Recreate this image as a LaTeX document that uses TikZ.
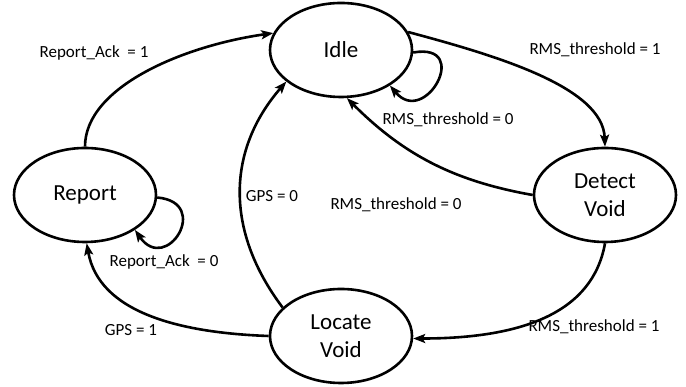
\documentclass[tikz,border=0pt]{standalone}
\usepackage{fontspec}
\setmainfont{Carlito}
\usetikzlibrary{arrows.meta,shapes.geometric}
\begin{document}
\begin{tikzpicture}[x=1pt,y=1pt,
  state/.style={ellipse,draw,line width=2.6pt,minimum width=142pt,minimum height=94pt,
    inner sep=0pt,align=center,font=\fontsize{23}{28}\selectfont},
  trans/.style={line width=2.6pt,-{Stealth[length=12pt,width=9pt,inset=2.5pt]}},
  lbl/.style={font=\fontsize{17}{20}\selectfont,inner sep=0pt}]
\useasboundingbox (0,0) rectangle (686,387);

% states
\node[state] (idle)   at (341,337) {Idle};
\node[state] (report) at (85,192)  {Report};
\node[state] (detect) at (605,192) {Detect\\Void};
\node[state] (locate) at (341,51)  {Locate\\Void};

% transitions
\draw[trans] (report.90) .. controls +(90:60) and +(188:90) .. (idle.166);
\draw[trans] (idle.15) .. controls +(-15:90) and +(92:60) .. (detect.90);
\draw[trans] (idle.-2) .. controls +(10:60) and +(-50:55) .. (idle.-36);
\draw[trans] (detect.180) .. controls +(170:80) and +(-45:80) .. (idle.-83);
\draw[trans] (detect.-90) .. controls +(-100:70) and +(0:110) .. (locate.-2);
\draw[trans] (locate.154) .. controls +(127:97) and +(229:90) .. (idle.210);
\draw[trans] (locate.180) .. controls +(178:90) and +(-80:70) .. (report.-88);
\draw[trans] (report.-2) .. controls +(-5:55) and +(-55:55) .. (report.-35);

% transition conditions
\node[lbl] (l1) at (94,334)  {Report\_Ack~~= 1};
\node[lbl] (l2) at (595,337) {RMS\_threshold = 1};
\node[lbl] (l3) at (448,267) {RMS\_threshold = 0};
\node[lbl] (l4) at (396,182) {RMS\_threshold = 0};
\node[lbl] (l5) at (594,60)  {RMS\_threshold = 1};
\node[lbl] (l6) at (272,191) {GPS = 0};
\node[lbl] (l7) at (131,57)  {GPS = 1};
\node[lbl] (l8) at (164,125) {Report\_Ack~~= 0};
\end{tikzpicture}
\end{document}
